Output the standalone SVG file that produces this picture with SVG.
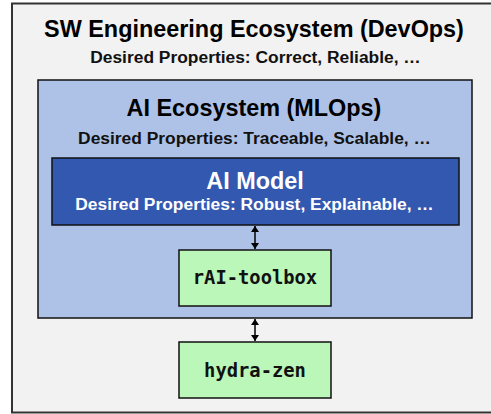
<svg xmlns="http://www.w3.org/2000/svg" width="491" height="414" viewBox="0 0 491 414">
<defs>
<style>
.box{stroke:#111;stroke-width:1.5}
.t{font-family:"Liberation Sans",Arial,sans-serif;font-weight:bold;text-anchor:middle}
.h{font-size:23.4px}
.s{font-size:17.4px}
.m{font-family:"DejaVu Sans Mono","Liberation Mono",monospace;font-weight:bold;text-anchor:middle;font-size:18.8px;fill:#111}
.c{stroke:#000;stroke-width:1.5;fill:none}
</style>
<marker id="ah" viewBox="0 0 6 8" refX="6" refY="4" markerWidth="6" markerHeight="8" orient="auto-start-reverse" markerUnits="userSpaceOnUse">
<path d="M0,0 L6,4 L0,8 z" fill="#000"/>
</marker>
</defs>
<rect width="491" height="414" fill="#ffffff"/>
<g id="sw-ecosystem">
<rect x="12" y="3.5" width="490" height="409" fill="#f2f2f2" stroke-width="2" stroke="#333"/>
<text class="t h" x="254" y="37" fill="#000">SW Engineering Ecosystem (DevOps)</text>
<text class="t s" x="255.5" y="63" fill="#111">Desired Properties: Correct, Reliable, …</text>
</g>
<g id="ai-ecosystem">
<rect class="box" x="38" y="80" width="434" height="238" fill="#aec2e8"/>
<text class="t h" x="254" y="115.5" fill="#000">AI Ecosystem (MLOps)</text>
<text class="t s" x="254.5" y="143.5" fill="#111">Desired Properties: Traceable, Scalable, …</text>
</g>
<g id="ai-model">
<rect class="box" x="52" y="158" width="407" height="67" fill="#3358b0"/>
<text class="t h" x="255" y="188.5" fill="#fff">AI Model</text>
<text class="t s" x="254.5" y="210" fill="#fff">Desired Properties: Robust, Explainable, …</text>
</g>
<g id="rai-toolbox">
<rect class="box" x="179" y="250" width="152" height="56" fill="#baf7b8"/>
<text class="m" x="255" y="284">rAI-toolbox</text>
</g>
<g id="hydra-zen">
<rect class="box" x="179" y="342" width="152" height="56" fill="#baf7b8"/>
<text class="m" x="255" y="377">hydra-zen</text>
</g>
<g id="connectors">
<line class="c" x1="255" y1="226" x2="255" y2="249" marker-start="url(#ah)" marker-end="url(#ah)"/>
<line class="c" x1="255" y1="319" x2="255" y2="341" marker-start="url(#ah)" marker-end="url(#ah)"/>
</g>
</svg>
